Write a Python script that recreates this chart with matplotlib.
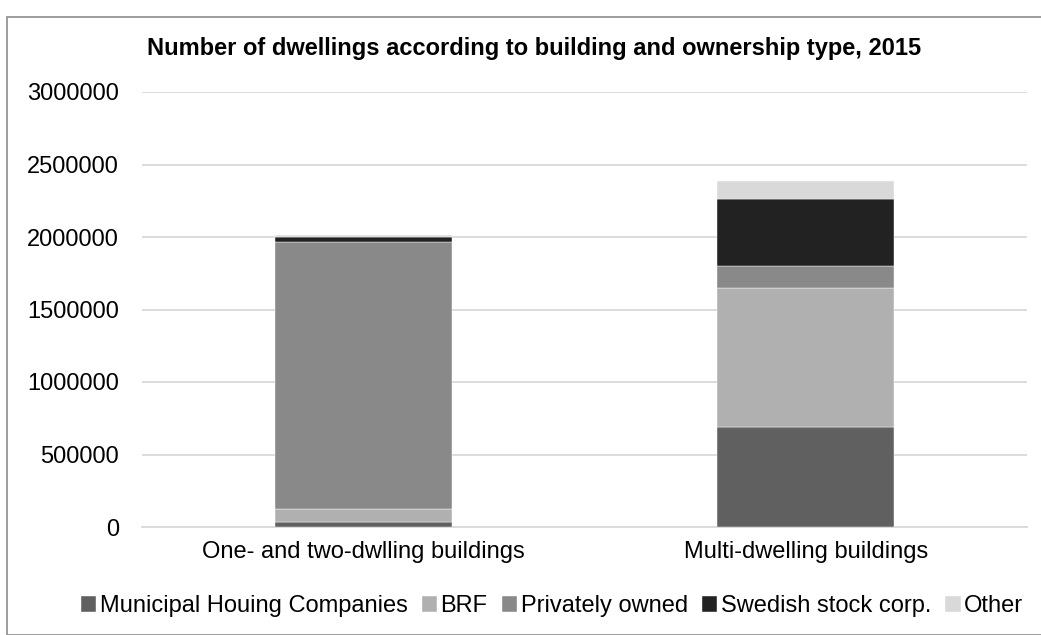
import matplotlib
matplotlib.use("Agg")
import matplotlib.pyplot as plt
from matplotlib.patches import Rectangle
import numpy as np

categories = ["One- and two-dwlling buildings", "Multi-dwelling buildings"]
series_names = ["Municipal Houing Companies", "BRF", "Privately owned",
                "Swedish stock corp.", "Other"]
municipal = [35000, 690000]
brf = [90000, 958000]
private = [1840000, 152000]
stock_corp = [33000, 460000]
other = [14000, 124000]
colors = ["#606060", "#b0b0b0", "#898989", "#222222", "#d9d9d9"]
yticks = [0, 500000, 1000000, 1500000, 2000000, 2500000, 3000000]

plt.rcParams["font.family"] = ["Liberation Sans", "DejaVu Sans"]

fig = plt.figure(figsize=(10.41, 6.35), dpi=100)
ax = fig.add_axes([142 / 1041, 1 - 527 / 635, 885 / 1041, (527 - 92) / 635])

# Outer chart frame
fig.patches.append(Rectangle((7 / 1041, 0), 1 - 7 / 1041 + 0.01, 1 - 17 / 635,
                             transform=fig.transFigure, fill=False,
                             edgecolor="#8c8c8c", linewidth=1.2))

x = np.arange(len(categories))
bottom = np.zeros(len(categories))
for name, vals, c in zip(series_names,
                         [municipal, brf, private, stock_corp, other], colors):
    ax.bar(x, vals, width=0.4, bottom=bottom, color=c, label=name,
           edgecolor="white", linewidth=0.3, zorder=3)
    bottom += np.array(vals)

ax.set_xlim(-0.5, 1.5)
ax.set_ylim(0, 3000000)
ax.set_yticks(yticks)
ax.set_yticklabels([str(v) for v in yticks])
ax.set_xticks(x)
ax.set_xticklabels(categories)
ax.tick_params(axis="both", length=0, labelsize=17, colors="black")
ax.tick_params(axis="y", pad=16.5)
ax.tick_params(axis="x", pad=10)
ax.grid(axis="y", color="#d9d9d9", linewidth=1.3, zorder=0)
for s in ["top", "right", "left"]:
    ax.spines[s].set_visible(False)
ax.spines["bottom"].set_color("#d9d9d9")
ax.spines["bottom"].set_linewidth(1.3)

fig.text(534 / 1041, 1 - 48 / 635,
         "Number of dwellings according to building and ownership type, 2015",
         ha="center", va="center", fontsize=17, fontweight="bold")

fig.legend(loc="center", bbox_to_anchor=(552 / 1041, 1 - 606 / 635), ncol=5,
           frameon=False, fontsize=17, handlelength=0.65, handleheight=0.65,
           handletextpad=0.15, columnspacing=0.6, borderaxespad=0)

fig.savefig("out.png", dpi=100)
